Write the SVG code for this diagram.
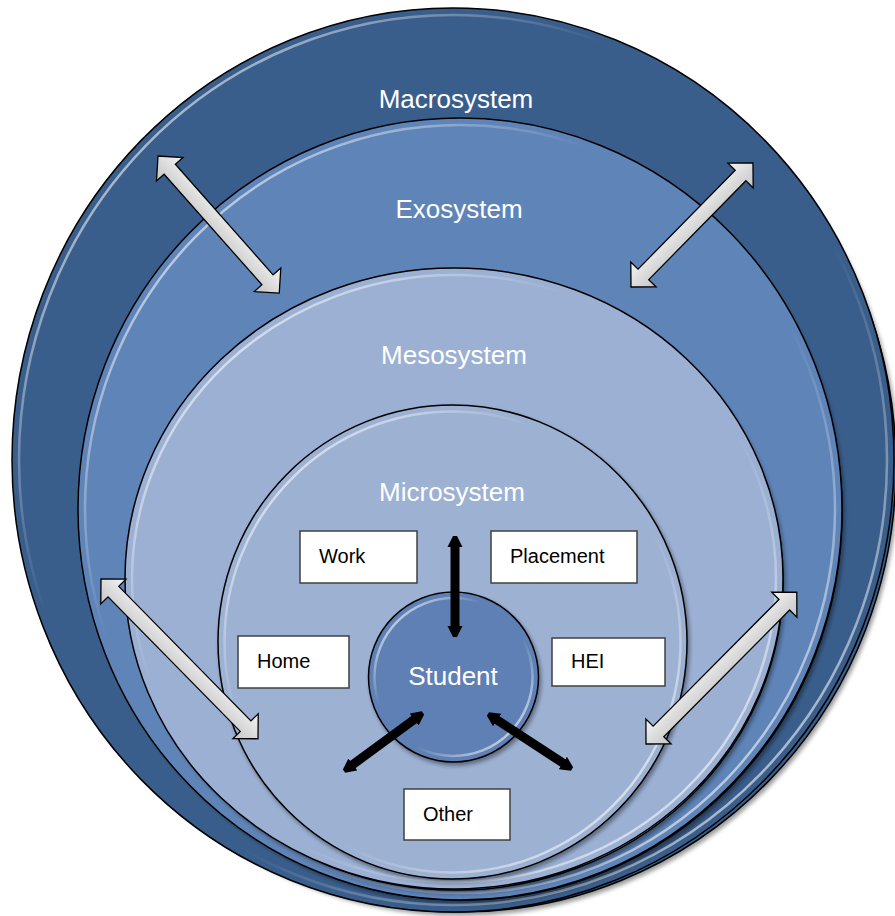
<svg xmlns="http://www.w3.org/2000/svg" width="895" height="916" viewBox="0 0 895 916">
  <defs>
    <linearGradient id="hl" x1="0" y1="0" x2="1" y2="1">
      <stop offset="0" stop-color="#fff" stop-opacity="0.95"/>
      <stop offset="0.35" stop-color="#fff" stop-opacity="0"/>
      <stop offset="0.6" stop-color="#fff" stop-opacity="0"/>
      <stop offset="1" stop-color="#fff" stop-opacity="0.9"/>
    </linearGradient>
    <linearGradient id="arrowFill" x1="0" y1="0" x2="0" y2="1">
      <stop offset="0" stop-color="#f4f4f4"/>
      <stop offset="1" stop-color="#c4c4c4"/>
    </linearGradient>
    <marker id="bh" viewBox="0 0 12 16" refX="2" refY="8" markerWidth="12" markerHeight="16" markerUnits="userSpaceOnUse" orient="auto-start-reverse">
      <path d="M0,0.5 L11,6 L11,10 L0,15.5 z" fill="#000"/>
    </marker>
    <filter id="sh" x="-10%" y="-10%" width="120%" height="120%">
      <feGaussianBlur in="SourceAlpha" stdDeviation="2"/>
      <feOffset dx="2" dy="3" result="b"/>
      <feComponentTransfer><feFuncA type="linear" slope="0.4"/></feComponentTransfer>
      <feMerge><feMergeNode/><feMergeNode in="SourceGraphic"/></feMerge>
    </filter>
  </defs>
  <style>
    .ring { stroke: #000; stroke-width: 1.5; }
    .hi { fill: none; stroke: url(#hl); stroke-width: 2.5; }
    .lbl { font-family: "Liberation Sans", Arial, sans-serif; font-size: 26px; fill: #fff; text-anchor: middle; }
    .box { fill: #fff; stroke: #404040; stroke-width: 1.5; }
    .btxt { font-family: "Liberation Sans", Arial, sans-serif; font-size: 20px; fill: #000; }
    .garrow { fill: url(#arrowFill); stroke: #000; stroke-width: 1.3; stroke-linejoin: miter; }
    .barrow { stroke: #000; stroke-width: 9; fill: none; }
  </style>

  <g id="macrosystem">
    <ellipse class="ring" cx="460" cy="466" rx="436" ry="446" fill="#3a5e8c" filter="url(#sh)"/>
    <ellipse class="ring" cx="453" cy="460" rx="441" ry="452" fill="#3a5e8c"/>
    <ellipse class="hi" cx="453" cy="460" rx="434" ry="445"/>
    <text class="lbl" x="456" y="108">Macrosystem</text>
  </g>

  <g id="exosystem">
    <ellipse class="ring" cx="462" cy="512" rx="380" ry="388" fill="#5f84b8" filter="url(#sh)"/>
    <ellipse class="ring" cx="460" cy="509" rx="382" ry="391" fill="#5f84b8"/>
    <ellipse class="hi" cx="460" cy="509" rx="375" ry="384"/>
    <text class="lbl" x="459" y="218">Exosystem</text>
  </g>

  <g id="mesosystem">
    <ellipse class="ring" cx="456" cy="581" rx="327" ry="309" fill="#9bb0d3" filter="url(#sh)"/>
    <ellipse class="ring" cx="454" cy="578.5" rx="329" ry="310.5" fill="#9bb0d3"/>
    <ellipse class="hi" cx="454" cy="578.5" rx="322" ry="303.5"/>
    <text class="lbl" x="454" y="364">Mesosystem</text>
  </g>

  <g id="microsystem">
    <ellipse class="ring" cx="452.5" cy="642" rx="234.5" ry="237" fill="#9db1d3" filter="url(#sh)"/>
    <ellipse class="hi" cx="452.5" cy="642" rx="228" ry="230.5"/>
    <text class="lbl" x="452" y="501">Microsystem</text>
  </g>

  <g id="student">
    <circle class="ring" cx="453.5" cy="677" r="85" fill="#5e80b4" filter="url(#sh)"/>
    <circle class="hi" cx="453.5" cy="677" r="79"/>
    <text class="lbl" x="453" y="685">Student</text>
  </g>

  <g id="work">
    <rect class="box" x="300" y="531" width="117" height="52"/>
    <text class="btxt" x="319" y="563">Work</text>
  </g>
  <g id="placement">
    <rect class="box" x="491" y="531" width="146" height="52"/>
    <text class="btxt" x="510" y="563">Placement</text>
  </g>
  <g id="home">
    <rect class="box" x="238" y="636" width="111" height="52"/>
    <text class="btxt" x="257" y="668">Home</text>
  </g>
  <g id="hei">
    <rect class="box" x="552" y="638" width="113" height="48"/>
    <text class="btxt" x="571" y="668">HEI</text>
  </g>
  <g id="other">
    <rect class="box" x="404" y="789" width="106" height="51"/>
    <text class="btxt" x="423" y="821">Other</text>
  </g>

  <g id="connectors">
    <path class="garrow" transform="translate(158,156) rotate(48.5)" d="M0,0 L17.7,-17.7 L17.7,-7.5 L165.3,-7.5 L165.3,-17.7 L183,0 L165.3,17.7 L165.3,7.5 L17.7,7.5 L17.7,17.7 Z"/>
    <path class="garrow" transform="translate(631,287) rotate(-45.5)" d="M0,0 L17.7,-17.7 L17.7,-7.5 L156.3,-7.5 L156.3,-17.7 L174,0 L156.3,17.7 L156.3,7.5 L17.7,7.5 L17.7,17.7 Z"/>
    <path class="garrow" transform="translate(101,579) rotate(45.5)" d="M0,0 L17.7,-17.7 L17.7,-7.5 L206.3,-7.5 L206.3,-17.7 L224,0 L206.3,17.7 L206.3,7.5 L17.7,7.5 L17.7,17.7 Z"/>
    <path class="garrow" transform="translate(646,744) rotate(-45.2)" d="M0,0 L17.7,-17.7 L17.7,-7.5 L196.3,-7.5 L196.3,-17.7 L214,0 L196.3,17.7 L196.3,7.5 L17.7,7.5 L17.7,17.7 Z"/>
    <line class="barrow" x1="455" y1="545" x2="455" y2="628" marker-start="url(#bh)" marker-end="url(#bh)"/>
    <line class="barrow" x1="415.7" y1="718.3" x2="351.3" y2="765.7" marker-start="url(#bh)" marker-end="url(#bh)"/>
    <line class="barrow" x1="495.5" y1="718.9" x2="564.5" y2="764.1" marker-start="url(#bh)" marker-end="url(#bh)"/>
  </g>
</svg>
